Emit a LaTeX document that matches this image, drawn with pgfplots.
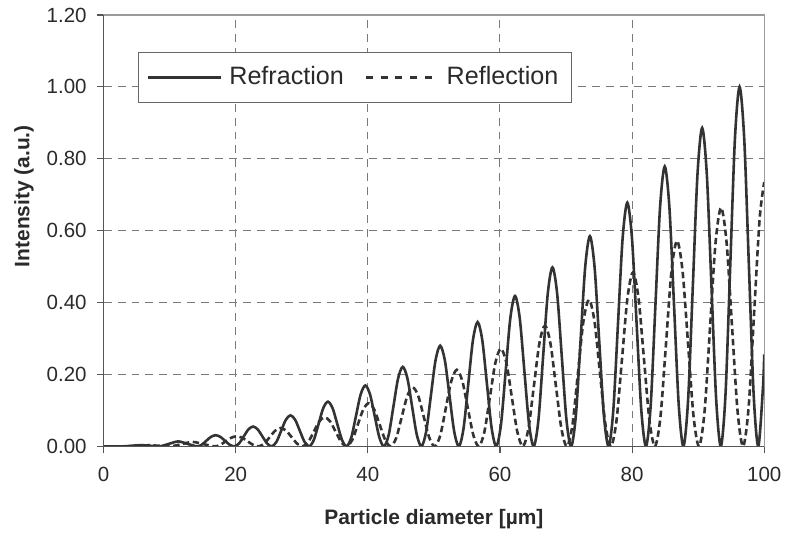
\documentclass[border=0pt]{standalone}
\usepackage{fontspec}
\setmainfont{Liberation Sans}
\usepackage{pgfplots}
\pgfplotsset{compat=1.18}
\definecolor{curve}{HTML}{333333}
\definecolor{gridgray}{HTML}{7A7A7A}
\definecolor{axisdark}{HTML}{555555}
\definecolor{axislight}{HTML}{9A9A9A}
\definecolor{labelcol}{HTML}{2A2A2A}
\definecolor{legendgray}{HTML}{666666}
\pgfplotsset{longlegend/.style={legend image code/.code={\draw[##1] (0pt,0pt) -- (#1,0pt);}},
  dashlegend/.style={legend image code/.code={\draw[##1, dash pattern=on 3.5pt off 3.875pt] (0pt,0pt) -- (33pt,0pt);\path[draw=none,fill=none] (0pt,0pt) rectangle (37pt,0pt);}}}
\begin{document}
\begin{tikzpicture}
\begin{axis}[
  scale only axis, width=331.5pt, height=216.5pt,
  xmin=0, xmax=100, ymin=0, ymax=1.2,
  xtick={0,20,40,60,80,100}, ytick={0,0.2,0.4,0.6,0.8,1.0,1.2},
  xtick pos=bottom, ytick pos=left, tick align=outside, major tick length=3.5pt,
  tick style={color=axisdark, line width=0.6pt},
  grid=major, grid style={dash pattern=on 4pt off 3pt, color=gridgray, line width=0.5pt},
  axis line style={draw=axislight, line width=0.7pt},
  /pgf/number format/assume math mode=true,
  yticklabel style={/pgf/number format/fixed, /pgf/number format/fixed zerofill, /pgf/number format/precision=2, xshift=-1.5pt},
  xticklabel style={yshift=-3.5pt},
  ticklabel style={font=\fontsize{10.3}{12}\selectfont, text=labelcol},
  xlabel={Particle diameter [µm]}, ylabel={Intensity (a.u.)},
  label style={font=\bfseries\fontsize{10.5}{12}\selectfont, text=labelcol},
  xlabel style={at={(axis description cs:0.5,-0.168)}, anchor=center},
  ylabel style={at={(axis description cs:-0.1207,0.58)}, anchor=center},
  legend columns=2,
  legend style={at={(axis description cs:0.0513,0.9145)}, anchor=north west,
    draw=legendgray, line width=0.6pt, fill=white, text=labelcol,
    font=\fontsize{12.6}{14}\selectfont, inner xsep=4.5pt, inner ysep=5.2pt,
    /tikz/every odd column/.append style={column sep=1.5pt},
    /tikz/every even column/.append style={column sep=8.5pt}},
  after end axis/.code={\draw[axisdark, line width=0.8pt] (rel axis cs:0,1) -- (rel axis cs:0,0) -- (rel axis cs:1,0);},
]
\coordinate (sw) at (rel axis cs:0,0);
\coordinate (ne) at (rel axis cs:1,1);
\addplot[curve, line width=1.3pt, smooth, longlegend=36.5pt] coordinates {
(0,0) (2.795,0)
(4.211,0.0017) (5.628,0.0034) (7.044,0.0017) (8.46,0)
(9.876,0.0069) (11.293,0.0138) (12.709,0.0069) (14.125,0)
(14.833,0.0045) (15.541,0.0155) (16.249,0.0265) (16.958,0.0310) (17.666,0.0265) (18.374,0.0155) (19.082,0.0045) (19.79,0)
(20.498,0.0081) (21.206,0.0276) (21.914,0.0471) (22.623,0.0552) (23.331,0.0471) (24.039,0.0276) (24.747,0.0081) (25.455,0)
(26.163,0.0126) (26.871,0.0432) (27.579,0.0738) (28.288,0.0864) (28.996,0.0738) (29.704,0.0432) (30.412,0.0126) (31.12,0)
(31.828,0.0182) (32.536,0.0622) (33.244,0.1062) (33.953,0.1244) (34.661,0.1062) (35.369,0.0622) (36.077,0.0182) (36.785,0)
(37.493,0.0248) (38.201,0.0847) (38.909,0.1446) (39.618,0.1694) (40.326,0.1446) (41.034,0.0847) (41.742,0.0248) (42.45,0)
(43.158,0.0324) (43.866,0.1106) (44.574,0.1888) (45.283,0.2212) (45.991,0.1888) (46.699,0.1106) (47.407,0.0324) (48.115,0)
(48.823,0.0410) (49.531,0.1401) (50.239,0.2391) (50.948,0.2801) (51.656,0.2391) (52.364,0.1401) (53.072,0.0410) (53.78,0)
(54.488,0.0506) (55.196,0.1729) (55.904,0.2952) (56.613,0.3458) (57.321,0.2952) (58.029,0.1729) (58.737,0.0506) (59.445,0)
(60.153,0.0613) (60.861,0.2093) (61.569,0.3572) (62.278,0.4185) (62.986,0.3572) (63.694,0.2093) (64.402,0.0613) (65.11,0)
(65.818,0.0729) (66.526,0.2490) (67.234,0.4251) (67.943,0.4980) (68.651,0.4251) (69.359,0.2490) (70.067,0.0729) (70.775,0)
(71.483,0.0856) (72.191,0.2923) (72.899,0.4990) (73.608,0.5846) (74.316,0.4990) (75.024,0.2923) (75.732,0.0856) (76.44,0)
(77.148,0.0993) (77.856,0.3390) (78.564,0.5787) (79.273,0.6780) (79.981,0.5787) (80.689,0.3390) (81.397,0.0993) (82.105,0)
(82.813,0.1140) (83.521,0.3893) (84.229,0.6645) (84.938,0.7785) (85.646,0.6645) (86.354,0.3893) (87.062,0.1140) (87.77,0)
(88.478,0.1297) (89.186,0.4429) (89.894,0.7560) (90.603,0.8857) (91.311,0.7560) (92.019,0.4429) (92.727,0.1297) (93.435,0)
(94.143,0.1464) (94.851,0.5000) (95.559,0.8536) (96.268,1.0000) (96.976,0.8536) (97.684,0.5000) (98.392,0.1464) (99.10,0)
(99.808,0.164) (100,0.256)
};
\addlegendentry{Refraction}
\addplot[curve, line width=1.3pt, smooth, dash pattern=on 3.2pt off 1.8pt, dashlegend] coordinates {
(0,0) (3.467,0) (5.133,0.0016) (6.8,0.0031) (8.467,0.0016) (10.133,0)
(11.8,0.0062) (13.467,0.0124) (15.133,0.0062) (16.8,0)
(17.633,0.0041) (18.467,0.0140) (19.3,0.0239) (20.133,0.0280) (20.967,0.0239) (21.8,0.0140) (22.633,0.0041) (23.467,0)
(24.3,0.0075) (25.133,0.0255) (25.967,0.0435) (26.8,0.0510) (27.633,0.0435) (28.467,0.0255) (29.3,0.0075) (30.133,0)
(30.967,0.0119) (31.8,0.0405) (32.633,0.0691) (33.467,0.0810) (34.3,0.0691) (35.133,0.0405) (35.967,0.0119) (36.8,0)
(37.633,0.0176) (38.467,0.0600) (39.3,0.1024) (40.133,0.1200) (40.967,0.1024) (41.8,0.0600) (42.633,0.0176) (43.467,0)
(44.3,0.0240) (45.133,0.0820) (45.967,0.1400) (46.8,0.1640) (47.633,0.1400) (48.467,0.0820) (49.3,0.0240) (50.133,0)
(50.967,0.0312) (51.8,0.1065) (52.633,0.1818) (53.467,0.2130) (54.3,0.1818) (55.133,0.1065) (55.967,0.0312) (56.8,0)
(57.633,0.0398) (58.467,0.1360) (59.3,0.2322) (60.133,0.2720) (60.967,0.2322) (61.8,0.1360) (62.633,0.0398) (63.467,0)
(64.3,0.0492) (65.133,0.1680) (65.967,0.2868) (66.8,0.3360) (67.633,0.2868) (68.467,0.1680) (69.3,0.0492) (70.133,0)
(70.967,0.0597) (71.8,0.2040) (72.633,0.3483) (73.467,0.4080) (74.3,0.3483) (75.133,0.2040) (75.967,0.0597) (76.8,0)
(77.633,0.0709) (78.467,0.2420) (79.3,0.4131) (80.133,0.4840) (80.967,0.4131) (81.8,0.2420) (82.633,0.0709) (83.467,0)
(84.3,0.0837) (85.133,0.2860) (85.967,0.4883) (86.8,0.5720) (87.633,0.4883) (88.467,0.2860) (89.3,0.0837) (90.133,0)
(90.967,0.0972) (91.8,0.3320) (92.633,0.5668) (93.467,0.6640) (94.3,0.5668) (95.133,0.3320) (95.967,0.0972) (96.8,0)
(97.633,0.108) (98.467,0.370) (99.3,0.632) (100,0.735)
};
\addlegendentry{Reflection}
\end{axis}
\path (sw) ++(-52pt,-45pt) coordinate (bbsw);
\path (ne) ++(10.5pt,7.5pt) coordinate (bbne);
\path (bbsw) rectangle (bbne);
\end{tikzpicture}
\end{document}
